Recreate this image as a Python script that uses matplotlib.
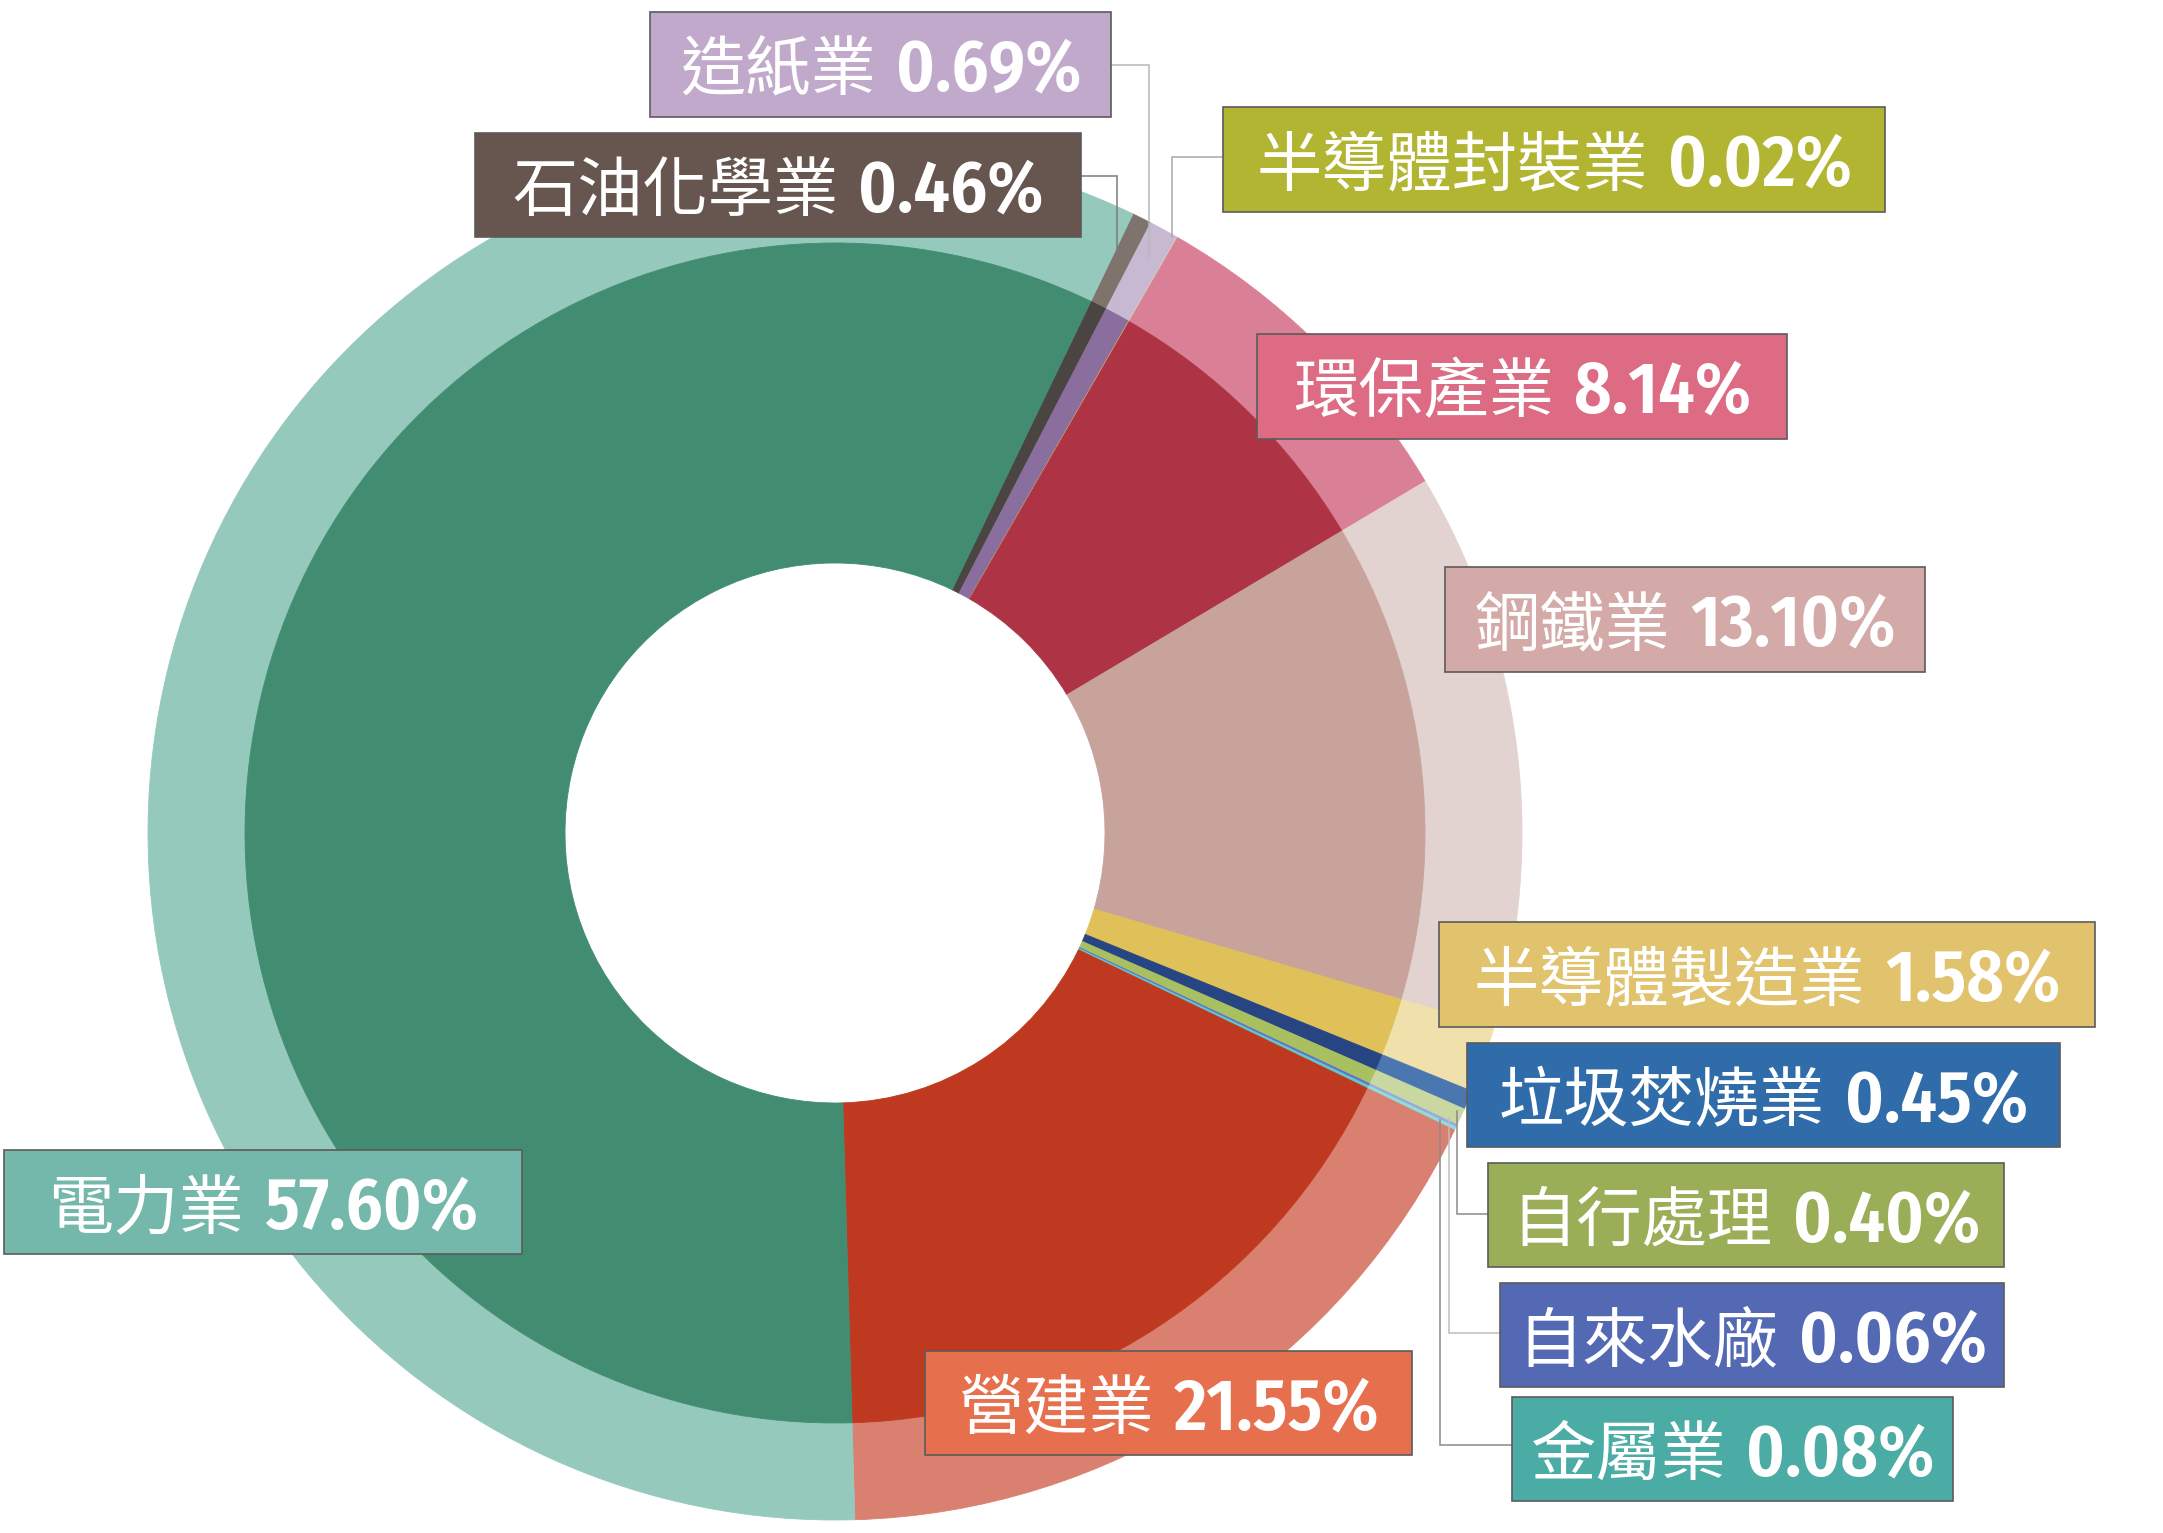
import matplotlib
matplotlib.use("Agg")
import matplotlib.pyplot as plt
from matplotlib import font_manager
from matplotlib.font_manager import FontProperties
from matplotlib.patches import Rectangle

W, H = 2163, 1533

# slices, clockwise starting just right of the top
sectors = ["石油化學業", "造紙業", "半導體封裝業", "環保產業", "鋼鐵業", "半導體製造業",
           "垃圾焚燒業", "自行處理", "自來水廠", "金屬業", "營建業", "電力業"]
# percentages as printed in the boxes
pct_labels = ["0.46%", "0.69%", "0.02%", "8.14%", "13.10%", "1.58%",
              "0.45%", "0.40%", "0.06%", "0.08%", "21.55%", "57.60%"]
# wedge sizes as drawn (construction wedge is drawn smaller than its label)
shares = [0.46, 0.69, 0.02, 8.14, 13.10, 1.58, 0.45, 0.40, 0.06, 0.08, 17.42, 57.60]

inner_colors = ["#4b4542", "#8a6e9e", "#c8b070", "#ad3345", "#c8a39c", "#e0c058",
                "#284583", "#a8c060", "#6070d0", "#60c8c8", "#bf3820", "#428d72"]
outer_colors = ["#7f736d", "#c8b9d3", "#d8d0b0", "#d98096", "#e2d3d0", "#f0e0ab",
                "#4a77b0", "#c8d8a0", "#9aa8e0", "#90dcd8", "#d98070", "#94c9bc"]
box_colors = ["#67554f", "#c1a9cb", "#b2b532", "#dc6b83", "#d3aaa8", "#e1c26d",
              "#306ca9", "#99ae57", "#5469b3", "#4aaca4", "#e6704d", "#73b8aa"]

# label boxes in image pixels (x0, y0, x1, y1), same order as sectors
boxes = [(475, 133, 1081, 237), (650, 12, 1111, 117), (1223, 107, 1885, 212),
         (1257, 334, 1787, 439), (1445, 567, 1925, 672), (1439, 922, 2095, 1027),
         (1467, 1043, 2060, 1147), (1488, 1163, 2004, 1267), (1500, 1283, 2004, 1387),
         (1512, 1397, 1953, 1501), (925, 1351, 1412, 1455), (4, 1150, 522, 1254)]

# leader lines in image pixels
leaders = {
    0: ([1081, 1117, 1117], [176, 176, 252], "#7a7a7a"),
    1: ([1111, 1149, 1149], [65, 65, 258], "#b8b8b8"),
    2: ([1223, 1172, 1172], [157, 157, 237], "#a8a8a8"),
    7: ([1488, 1457, 1457], [1214, 1214, 1111], "#8a8a8a"),
    8: ([1500, 1449, 1449], [1333, 1333, 1118], "#bdbdbd"),
    9: ([1512, 1440, 1440], [1445, 1445, 1120], "#8a8a8a"),
}


def weight_num(w):
    if isinstance(w, str):
        return font_manager.weight_dict.get(w, 400)
    return w


def pick_font(families, weight, size):
    # static condensed faces only; variable fonts come out at their default weight
    for fam in families:
        hits = [f for f in font_manager.fontManager.ttflist
                if f.name == fam and f.style == "normal" and "[" not in f.fname]
        if hits:
            hits.sort(key=lambda f: abs(weight_num(f.weight) - weight))
            return FontProperties(fname=hits[0].fname, size=size)
    return FontProperties(family="Roboto", weight="bold", size=size - 6)


num_prop = pick_font(["Fira Sans Condensed", "Barlow Semi Condensed",
                      "IBM Plex Sans Condensed", "Asap Condensed",
                      "Encode Sans Condensed", "Liberation Sans Narrow"], 600, 52)
cn_prop = FontProperties(family=["Noto Sans CJK TC", "DejaVu Sans"], weight="light", size=47)

fig = plt.figure(figsize=(W / 100, H / 100), dpi=100)
ax = fig.add_axes([0, 0, 1, 1])

cx, cy = 835, H - 833
r_out, r_mid, r_hole = 687, 590, 270

outer, _ = ax.pie(shares, radius=r_out, center=(cx, cy), startangle=64.3,
                  counterclock=False, colors=outer_colors,
                  wedgeprops=dict(width=r_out - r_mid))
inner, _ = ax.pie(shares, radius=r_mid, center=(cx, cy), startangle=64.3,
                  counterclock=False, colors=inner_colors,
                  wedgeprops=dict(width=r_mid - r_hole))
for w in outer + inner:
    w.set_edgecolor(w.get_facecolor())
    w.set_linewidth(0.6)

for i, (xs, ys, c) in leaders.items():
    ax.plot(xs, [H - y for y in ys], color=c, lw=1.1, zorder=4,
            solid_joinstyle="miter")

texts = []
for i, (x0, y0, x1, y1) in enumerate(boxes):
    ax.add_patch(Rectangle((x0, H - y1), x1 - x0, y1 - y0, facecolor=box_colors[i],
                           edgecolor="#5b5b5b", lw=1.2, zorder=5))
    base = H - ((y0 + y1) / 2 + 26)
    t1 = ax.text(0, base, sectors[i], color="white", va="baseline",
                 ha="left", zorder=6, fontproperties=cn_prop)
    t2 = ax.text(0, base, pct_labels[i], color="white", va="baseline",
                 ha="left", zorder=6, fontproperties=num_prop)
    texts.append((t1, t2))

ax.set_xlim(0, W)
ax.set_ylim(0, H)
ax.set_aspect("auto")
ax.axis("off")

fig.canvas.draw()
rend = fig.canvas.get_renderer()
gap = 20
for (x0, y0, x1, y1), (t1, t2) in zip(boxes, texts):
    w1 = t1.get_window_extent(rend).width
    w2 = t2.get_window_extent(rend).width
    start = (x0 + x1) / 2 - (w1 + gap + w2) / 2
    t1.set_x(start)
    t2.set_x(start + w1 + gap)

fig.savefig("out.png", dpi=100, facecolor="white")
